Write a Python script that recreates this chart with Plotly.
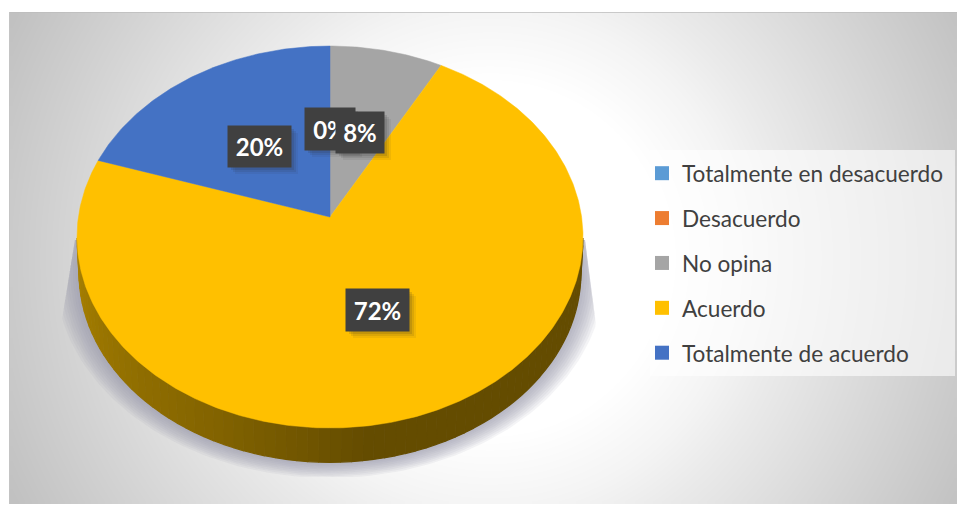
import numpy as np
import plotly.graph_objects as go

categories = ["Totalmente en desacuerdo", "Desacuerdo", "No opina", "Acuerdo", "Totalmente de acuerdo"]
values = [0, 0, 8, 72, 20]
colors = ["#5B9BD5", "#ED7D31", "#A5A5A5", "#FFC000", "#4472C4"]
label_boxes = {"0%": (305, 108, 355, 150), "8%": (336, 112, 384, 153),
               "20%": (228, 126, 291, 167), "72%": (346, 289, 409, 331)}

W, H = 957, 506
CX, CY, A, B, K = 330.0, 217.0, 251.6, 188.9, 0.1047
DEPTH, BOTTOM_SCALE = 36.0, 0.992


def rim(theta, r=1.0, dy=0.0, s=1.0):
    u, v = r * np.sin(theta), r * np.cos(theta)
    w = 1 + K * v
    return CX + s * A * u / w, CY + dy - s * B * v / w


fig = go.Figure()

# chart-area radial background
gx = np.arange(12, 955, 6.0)
gy = np.arange(15, 502, 6.0)
gxx, gyy = np.meshgrid(gx, gy)
dist = np.hypot(gxx - 490, gyy - 258)
shade = np.interp(dist, [175, 250, 300, 430, 545], [255, 244, 234, 211, 191])
fig.add_trace(go.Heatmap(x=gx, y=gy, z=shade, zmin=0, zmax=255, zsmooth="best", showscale=False,
                         colorscale=[[0, "rgb(0,0,0)"], [1, "rgb(255,255,255)"]], hoverinfo="skip"))

# soft clipped shadow
t = np.linspace(np.pi * 0.47, np.pi * 1.53, 160)
for d in np.linspace(24, 1, 10):
    sx, sy = rim(t, dy=DEPTH, s=BOTTOM_SCALE)
    nx = (sx - CX) / A
    ny = (sy - (CY + DEPTH + 20)) / B
    norm = np.hypot(nx, ny)
    py = np.clip(sy + 0.65 * d * ny / norm, 240, 477)
    px = sx + d * nx / norm
    px = np.maximum(px, np.interp(py, [240, 320], [75, 62]))
    px = np.minimum(px, np.interp(py, [240, 340], [585, 598]))
    fig.add_trace(go.Scatter(x=px, y=py, mode="lines", fill="toself", line=dict(width=0),
                             fillcolor="rgba(150,150,170,0.10)", hoverinfo="skip", showlegend=False))

# side wall (shaded strips along the front of the pie)
edges = np.linspace(np.pi * 0.535, np.pi * 1.465, 75)
for a0, a1 in zip(edges[:-1], edges[1:]):
    seg = np.linspace(a0, a1, 4)
    x0, y0 = rim(seg)
    x1, y1 = rim(seg[::-1], dy=DEPTH, s=BOTTOM_SCALE)
    f = ((a0 + a1) / 2 - edges[0]) / (edges[-1] - edges[0])  # 0 = right, 1 = left
    c = np.interp(f, [0, 0.45, 0.65, 1], [0, 0, 0.45, 1])
    col = (int(100 + c * 70), int(76 + c * 54), 0)
    fig.add_trace(go.Scatter(x=np.r_[x0, x1], y=np.r_[y0, y1], mode="lines", fill="toself",
                             line=dict(width=1.2, color="rgb(%d,%d,%d)" % col),
                             fillcolor="rgb(%d,%d,%d)" % col, hoverinfo="skip", showlegend=False))

# top face from the values
total = sum(values)
start = 0.0
for name, val, col in zip(categories, values, colors):
    sweep = 2 * np.pi * val / total
    if val > 0:
        th = np.linspace(start, start + sweep, max(4, int(val * 6)))
        xs, ys = rim(th)
        fig.add_trace(go.Scatter(x=np.r_[CX, xs, CX], y=np.r_[CY, ys, CY], mode="lines", fill="toself",
                                 line=dict(width=0.5, color=col), fillcolor=col,
                                 hoverinfo="skip", showlegend=False))
    start += sweep

# legend entries
for name, col in zip(categories, colors):
    fig.add_trace(go.Scatter(x=[None], y=[None], mode="markers", name=name, legendgroup=name,
                             marker=dict(symbol="square", size=14, color=col)))

shapes = [
    dict(type="rect", x0=9, x1=957, y0=12, y1=12.8, line=dict(width=0), fillcolor="#BDBDBD", layer="above"),
    dict(type="rect", x0=9, x1=9.8, y0=12, y1=504, line=dict(width=0), fillcolor="#C4C4C4", layer="above"),
    dict(type="rect", x0=650, x1=955, y0=150, y1=376, line=dict(width=0),
         fillcolor="rgba(255,255,255,0.6)", layer="above"),
]
annotations = []
for text, (x0, y0, x1, y1) in label_boxes.items():
    for off, alpha in ((7, 0.07), (5, 0.10), (3, 0.14)):
        shapes.append(dict(type="rect", x0=x0 + off, x1=x1 + off, y0=y0 + off, y1=y1 + off,
                           line=dict(width=0), fillcolor="rgba(40,40,40,%g)" % alpha, layer="above"))
for text, (x0, y0, x1, y1) in label_boxes.items():
    annotations.append(dict(x=(x0 + x1) / 2, y=(y0 + y1) / 2, xref="x", yref="y", text=text,
                            showarrow=False, width=x1 - x0, height=y1 - y0, bgcolor="#404040",
                            align="center", borderpad=0,
                            font=dict(family="Lato", size=24, color="white", weight="bold")))

fig.update_layout(
    width=W, height=H, margin=dict(l=0, r=0, t=0, b=0),
    paper_bgcolor="white", plot_bgcolor="white",
    xaxis=dict(range=[0, W], visible=False, fixedrange=True),
    yaxis=dict(range=[H, 0], visible=False, fixedrange=True),
    shapes=shapes, annotations=annotations,
    legend=dict(x=642 / W, y=1 - 152 / H, xanchor="left", yanchor="top", bgcolor="rgba(0,0,0,0)",
                font=dict(family="Lato", size=22.6, color="#404040"), tracegroupgap=12.5,
                itemclick=False, itemdoubleclick=False),
)
fig.write_html("out.html", config=dict(displayModeBar=False),
               post_script="document.body.style.margin='0';document.body.style.overflow='hidden';")
